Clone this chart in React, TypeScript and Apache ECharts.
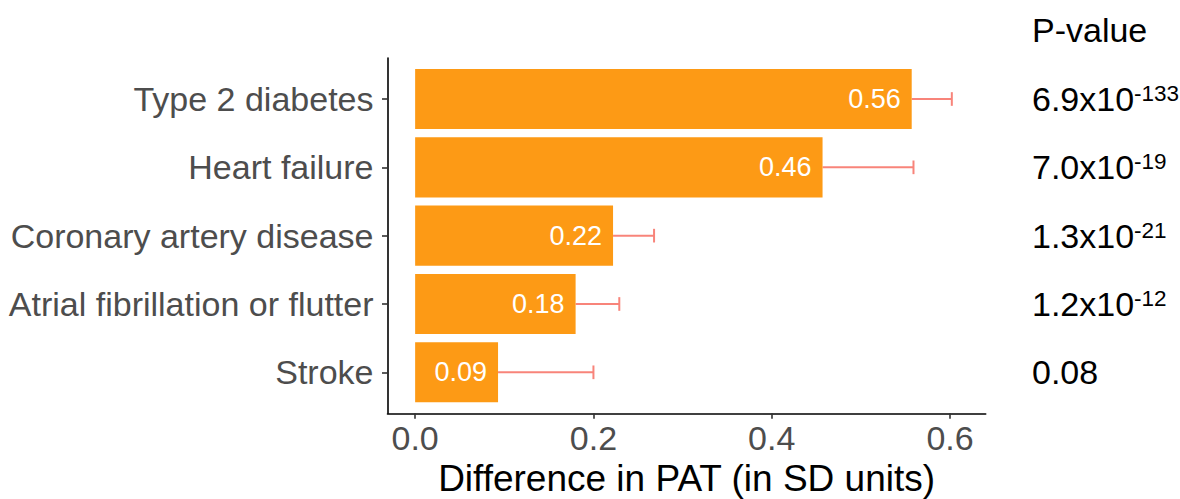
import React, { useEffect, useRef } from "react";
import * as echarts from "echarts";

const categories = [
  "Type 2 diabetes",
  "Heart failure",
  "Coronary artery disease",
  "Atrial fibrillation or flutter",
  "Stroke",
];
const differences = [0.557, 0.457, 0.222, 0.18, 0.093];
const upperCI = [0.602, 0.559, 0.268, 0.229, 0.2];
const barLabels = ["0.56", "0.46", "0.22", "0.18", "0.09"];
const pBase = ["6.9x10", "7.0x10", "1.3x10", "1.2x10", "0.08"];
const pExp = ["-133", "-19", "-21", "-12", ""];
const xTicks = [0, 0.2, 0.4, 0.6];
const catPositions = [1, 2, 3, 4, 5];

const FONT = "'Liberation Sans', Arial, Helvetica, sans-serif";
const BAR_COLOR = "#FD9A15";
const ERR_COLOR = "#F8847A";

export default function App() {
  const ref = useRef<HTMLDivElement>(null);
  useEffect(() => {
    document.body.style.margin = "0";
    const chart = echarts.init(ref.current!, null, { renderer: "svg" });
    const data = categories.map((_, i) => [catPositions[i], differences[i], upperCI[i], barLabels[i]]);
    const option: any = {
      animation: false,
      textStyle: { fontFamily: FONT },
      title: {
        text: "P-value",
        left: 1032,
        top: 13,
        padding: 0,
        textStyle: { fontSize: 34, fontWeight: "normal", color: "#000", fontFamily: FONT },
      },
      grid: {
        left: 387.5,
        right: 194.3,
        top: 58,
        bottom: 85.7,
        containLabel: false,
        outerBoundsMode: "none",
      },
      xAxis: {
        type: "value",
        min: -0.031,
        max: 0.64,
        splitLine: { show: false },
        axisLine: { show: true, onZero: false, lineStyle: { color: "#000", width: 1.6 } },
        axisTick: { show: true, customValues: xTicks, length: 5.5, lineStyle: { color: "#333", width: 1.6 } },
        axisLabel: {
          customValues: xTicks,
          formatter: (v: number) => v.toFixed(1),
          fontSize: 34,
          color: "#4D4D4D",
          margin: 8,
          fontFamily: FONT,
        },
        name: "Difference in PAT (in SD units)",
        nameLocation: "middle",
        nameGap: 46,
        nameTextStyle: { fontSize: 37, color: "#000", fontFamily: FONT },
      },
      yAxis: [
        {
          type: "value",
          min: 0.4,
          max: 5.6,
          inverse: true,
          splitLine: { show: false },
          axisLine: { show: true, onZero: false, lineStyle: { color: "#000", width: 1.6 } },
          axisTick: { show: true, customValues: catPositions, length: 5.5, lineStyle: { color: "#333", width: 1.6 } },
          axisLabel: {
            customValues: catPositions,
            formatter: (v: number) => categories[Math.round(v) - 1] ?? "",
            fontSize: 34,
            color: "#4D4D4D",
            margin: 14,
            fontFamily: FONT,
          },
        },
        {
          type: "value",
          position: "right",
          min: 0.4,
          max: 5.6,
          inverse: true,
          offset: 46.3,
          splitLine: { show: false },
          axisLine: { show: false, onZero: false },
          axisTick: { show: false },
          axisLabel: {
            customValues: catPositions,
            margin: 0,
            align: "left",
            formatter: (v: number) => {
              const i = Math.round(v) - 1;
              return pExp[i] ? `{b|${pBase[i]}}{s|${pExp[i]}}` : `{b|${pBase[i]}}`;
            },
            rich: {
              b: { fontSize: 34, color: "#000", fontFamily: FONT },
              s: { fontSize: 22.5, color: "#000", fontFamily: FONT, verticalAlign: "top" },
            },
          },
        },
      ],
      series: [
        {
          type: "custom",
          xAxisIndex: 0,
          yAxisIndex: 0,
          data,
          encode: { x: [1, 2], y: 0 },
          renderItem: (params: any, api: any) => {
            const y = api.value(0);
            const v = api.value(1);
            const up = api.value(2);
            const idx = params.dataIndex;
            const p0 = api.coord([0, y]);
            const p1 = api.coord([v, y]);
            const pu = api.coord([up, y]);
            const h = Math.abs(api.size([0, 0.88])[1]);
            const capH = Math.abs(api.size([0, 0.2])[1]);
            return {
              type: "group",
              children: [
                {
                  type: "line",
                  shape: { x1: p1[0], y1: p1[1], x2: pu[0], y2: pu[1] },
                  style: { stroke: ERR_COLOR, lineWidth: 2 },
                },
                {
                  type: "line",
                  shape: { x1: pu[0], y1: pu[1] - capH / 2, x2: pu[0], y2: pu[1] + capH / 2 },
                  style: { stroke: ERR_COLOR, lineWidth: 2 },
                },
                {
                  type: "rect",
                  shape: { x: p0[0], y: p0[1] - h / 2, width: p1[0] - p0[0], height: h },
                  style: { fill: BAR_COLOR },
                },
                {
                  type: "text",
                  x: p1[0] - 11,
                  y: p1[1],
                  style: {
                    text: barLabels[idx],
                    fill: "#fff",
                    fontSize: 27,
                    fontFamily: FONT,
                    align: "right",
                    verticalAlign: "middle",
                  },
                },
              ],
            };
          },
        },
      ],
    };
    chart.setOption(option);
    return () => chart.dispose();
  }, []);
  return <div ref={ref} style={{ width: 1180, height: 499 }} />;
}
